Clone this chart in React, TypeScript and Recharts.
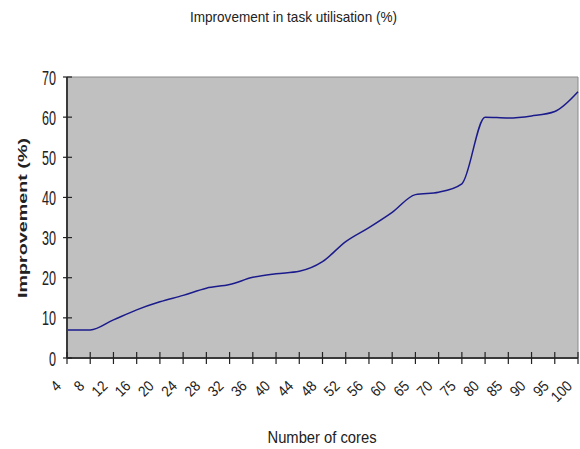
import React from "react";
import { LineChart, Line, XAxis, YAxis, ReferenceArea } from "recharts";

const cores = ["4", "8", "12", "16", "20", "24", "28", "32", "36", "40", "44", "48", "52", "56", "60", "65", "70", "75", "80", "85", "90", "95", "100"];
const improvement = [7, 7, 9.5, 12, 14, 15.6, 17.4, 18.3, 20.1, 21, 21.6, 24, 29, 32.5, 36.3, 40.7, 41.3, 43.4, 60, 59.8, 60.3, 61.4, 66.3];
const yTicks = [0, 10, 20, 30, 40, 50, 60, 70];

const data = cores.map((c, i) => ({ cores: c, value: improvement[i] }));

const NARROW = "'Liberation Sans Narrow', 'Arial Narrow', 'Liberation Sans', Arial, sans-serif";
const SANS = "'Liberation Sans', Arial, sans-serif";

const XTick = (props: any) => {
  const { x, y, payload } = props;
  const ax = x - 5;
  const ay = y + 29;
  const s = String(payload.value);
  return (
    <g>
      <line x1={x} x2={x} y1={y - 6} y2={y + 6} stroke="#222" strokeWidth={1.2} />
      <text
        x={ax}
        y={ay}
        textAnchor="end"
        fontFamily={NARROW}
        fontSize={15}
        fill="#222"
        textLength={s.length * 7.5}
        lengthAdjust="spacingAndGlyphs"
        transform={`rotate(-45 ${ax} ${ay})`}
      >
        {s}
      </text>
    </g>
  );
};

const YTick = (props: any) => {
  const { x, y, payload } = props;
  const s = String(payload.value);
  return (
    <g>
      <line x1={x - 4} x2={x + 5} y1={y} y2={y} stroke="#222" strokeWidth={1.2} />
      <text
        x={x - 11}
        y={y + 7.5}
        textAnchor="end"
        fontFamily={NARROW}
        fontSize={20}
        fill="#222"
        textLength={s.length * 7}
        lengthAdjust="spacingAndGlyphs"
      >
        {s}
      </text>
    </g>
  );
};

export default function App() {
  return (
    <div style={{ position: "absolute", left: 0, top: 0, width: 580, height: 449, background: "#fff" }}>
      <LineChart width={580} height={449} data={data} margin={{ top: 77, right: 2, bottom: 0, left: 0 }}>
        <ReferenceArea x1="4" x2="100" y1={0} y2={70} fill="#C0C0C0" fillOpacity={1} stroke="#8a8a8a" strokeWidth={1} />
        <XAxis
          dataKey="cores"
          height={91}
          interval={0}
          tickSize={0}
          tickMargin={0}
          tickLine={false}
          axisLine={{ stroke: "#3a3a3a", strokeWidth: 2 }}
          tick={<XTick />}
        />
        <YAxis
          width={67}
          domain={[0, 70]}
          ticks={yTicks}
          interval={0}
          tickSize={0}
          tickMargin={0}
          tickLine={false}
          axisLine={{ stroke: "#3a3a3a", strokeWidth: 2 }}
          tick={<YTick />}
        />
        <Line
          type="monotone"
          dataKey="value"
          stroke="#1a1a8c"
          strokeWidth={1.5}
          dot={false}
          isAnimationActive={false}
        />
      </LineChart>
      <svg
        width={580}
        height={449}
        style={{ position: "absolute", left: 0, top: 0, pointerEvents: "none" }}
      >
        <text x={293.5} y={22} textAnchor="middle" fontFamily={NARROW} fontSize={15} fill="#222" textLength={207} lengthAdjust="spacingAndGlyphs">
          Improvement in task utilisation (%)
        </text>
        <text x={322} y={443} textAnchor="middle" fontFamily={NARROW} fontSize={16} fill="#222" textLength={109} lengthAdjust="spacingAndGlyphs">
          Number of cores
        </text>
        <text
          x={27}
          y={218}
          textAnchor="middle"
          fontFamily={SANS}
          fontWeight="bold"
          fontSize={13}
          fill="#222"
          textLength={160}
          lengthAdjust="spacingAndGlyphs"
          transform="rotate(-90 27 218)"
        >
          Improvement (%)
        </text>
      </svg>
    </div>
  );
}
